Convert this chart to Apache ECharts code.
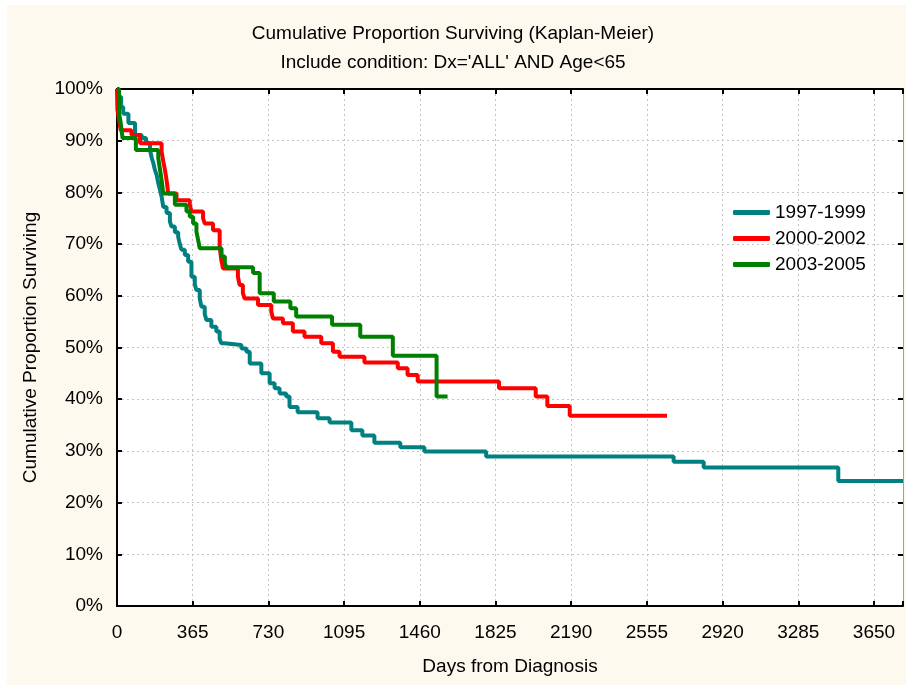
<!DOCTYPE html>
<html>
<head>
<meta charset="utf-8">
<script src="https://cdn.jsdelivr.net/npm/echarts@6/dist/echarts.min.js"></script>
<style>
html,body{margin:0;padding:0;background:#fff;}
#bg{position:absolute;left:7px;top:5px;width:899px;height:680px;background:#fdf9ee;}
#chart{position:absolute;left:0;top:0;width:906px;height:686px;}
</style>
</head>
<body>
<div id="bg"></div>
<div id="chart"></div>
<script>
// Kaplan-Meier step points: [day, percent surviving from that day on]
const series1997 = [
  [0,100],[8,98.5],[20,96.5],[30,95.2],[55,93.4],[87,91.1],[119,90.5],[140,89.5],[159,88.2],
  [168,86.6],[175,85.7],[183,84.3],[191,83.4],[199,81.8],[207,80.5],[215,79.2],
  [223,77.2],[239,76.0],[255,74.4],[263,73.4],[279,72.3],[295,71.4],[303,70.0],
  [311,68.9],[327,67.9],[343,66.6],[359,63.7],[375,62.2],[383,61.1],[399,59.5],
  [407,57.9],[423,56.5],[431,55.3],[455,54.0],[479,53.1],[495,51.7],[503,50.8],
  [519,50.5],[600,49.8],[624,49.2],[640,46.9],[696,45.0],[736,43.1],[760,42.1],
  [784,41.1],[816,40.5],[832,38.5],[871,37.5],[967,36.3],[1025,35.5],[1130,34.0],
  [1183,33.0],[1241,31.6],[1366,30.7],[1482,29.9],[1780,28.9],[2684,27.9],
  [2829,26.8],[3478,24.2],[3790,24.2]
];
const series2000 = [
  [0,100],[2,96],[10,94],[18,92.0],[70,91.1],[111,89.5],[215,87.9],[223,86.0],
  [231,84.4],[239,82.4],[247,79.8],[287,78.5],[351,77.6],[359,76.3],[415,75.0],
  [423,74.0],[463,72.7],[495,69.5],[503,66.9],[511,65.3],[583,63.7],[591,62.1],
  [607,60.5],[615,59.5],[680,58.2],[744,56.9],[752,55.6],[800,54.7],[848,53.1],
  [904,52.1],[985,50.8],[1041,49.2],[1073,48.2],[1193,47.1],[1354,46.0],[1401,44.7],
  [1450,43.4],[1842,42.1],[2019,40.5],[2075,38.7],[2183,36.8],[2652,36.8]
];
const series2003 = [
  [0,100],[10,95.3],[18,93.4],[22,92.0],[27,90.5],[91,88.2],[199,86.6],[207,84.5],
  [215,82.4],[223,79.8],[279,77.6],[335,76.3],[351,75.3],[367,74.0],[383,72.4],
  [391,70.8],[399,69.2],[504,67.6],[520,66.3],[528,65.5],[656,64.4],[688,60.5],
  [756,58.9],[836,57.6],[864,56.0],[1037,54.4],[1173,52.1],[1330,48.4],[1541,40.5],
  [1594,40.5]
];
const seriesNames = ['1997-1999','2000-2002','2003-2005'];
const seriesColors = ['#008080','#ff0000','#008000'];
const xMax = 3790;
const xStep = 365;
const xLabelMax = 3650;

const chart = echarts.init(document.getElementById('chart'), null, {renderer:'canvas'});
const font = 'Liberation Sans, Arial, sans-serif';
const fs = 19;
const xCommon = {type:'value', min:0, max:xMax, interval:xStep};
const yCommon = {type:'value', min:0, max:100, interval:10};
const tick = {show:true, inside:true, length:5, lineStyle:{color:'#000', width:2}};

chart.setOption({
  backgroundColor:'transparent',
  animation:false,
  title:[
    {text:'Cumulative Proportion Surviving (Kaplan-Meier)', left:'center', top:19,
     textStyle:{fontFamily:font, fontSize:fs, fontWeight:'normal', color:'#000'}},
    {text:"Include condition: Dx='ALL' AND Age<65", left:'center', top:48,
     textStyle:{fontFamily:font, fontSize:fs, fontWeight:'normal', color:'#000'}}
  ],
  legend:{
    orient:'vertical', left:728, top:197, itemWidth:37, itemHeight:5, itemGap:5,
    icon:'roundRect',
    data:seriesNames.map((n,i)=>({name:n, itemStyle:{color:seriesColors[i]}})),
    textStyle:{fontFamily:font, fontSize:fs, color:'#000', lineHeight:21}
  },
  grid:{left:117, top:89, right:1, bottom:80, show:true, backgroundColor:'#fff', borderWidth:0},
  xAxis:[
    Object.assign({}, xCommon, {
      position:'bottom',
      name:'Days from Diagnosis', nameLocation:'middle', nameGap:51,
      nameTextStyle:{fontFamily:font, fontSize:fs, color:'#000'},
      axisLine:{show:true, onZero:false, lineStyle:{color:'#000', width:2}},
      axisTick:tick,
      axisLabel:{fontFamily:font, fontSize:fs, color:'#000', margin:17,
        formatter:v => (v % xStep === 0 && v <= xLabelMax) ? String(v) : ''},
      splitLine:{show:true, lineStyle:{color:'#c4c4c4', width:1, type:[2,3]}}
    }),
    Object.assign({}, xCommon, {
      position:'top',
      axisLine:{show:true, onZero:false, lineStyle:{color:'#000', width:2}},
      axisTick:tick, axisLabel:{show:false}, splitLine:{show:false}
    })
  ],
  yAxis:[
    Object.assign({}, yCommon, {
      position:'left',
      name:'Cumulative Proportion Surviving', nameLocation:'middle', nameGap:77, nameRotate:90,
      nameTextStyle:{fontFamily:font, fontSize:fs, color:'#000'},
      axisLine:{show:true, onZero:false, lineStyle:{color:'#000', width:2}},
      axisTick:tick,
      axisLabel:{fontFamily:font, fontSize:fs, color:'#000', margin:14, formatter:'{value}%'},
      splitLine:{show:true, lineStyle:{color:'#c4c4c4', width:1, type:[2,3]}}
    }),
    Object.assign({}, yCommon, {
      position:'right',
      axisLine:{show:true, onZero:false, lineStyle:{color:'#a0a0a0', width:1}},
      axisTick:tick, axisLabel:{show:false}, splitLine:{show:false}
    })
  ],
  series:[series1997, series2000, series2003].map((d,i)=>({
    name:seriesNames[i], type:'line', step:'end', data:d,
    showSymbol:false, symbol:'none', xAxisIndex:0, yAxisIndex:0,
    lineStyle:{color:seriesColors[i], width:4},
    itemStyle:{color:seriesColors[i]}
  }))
});
</script>
</body>
</html>
